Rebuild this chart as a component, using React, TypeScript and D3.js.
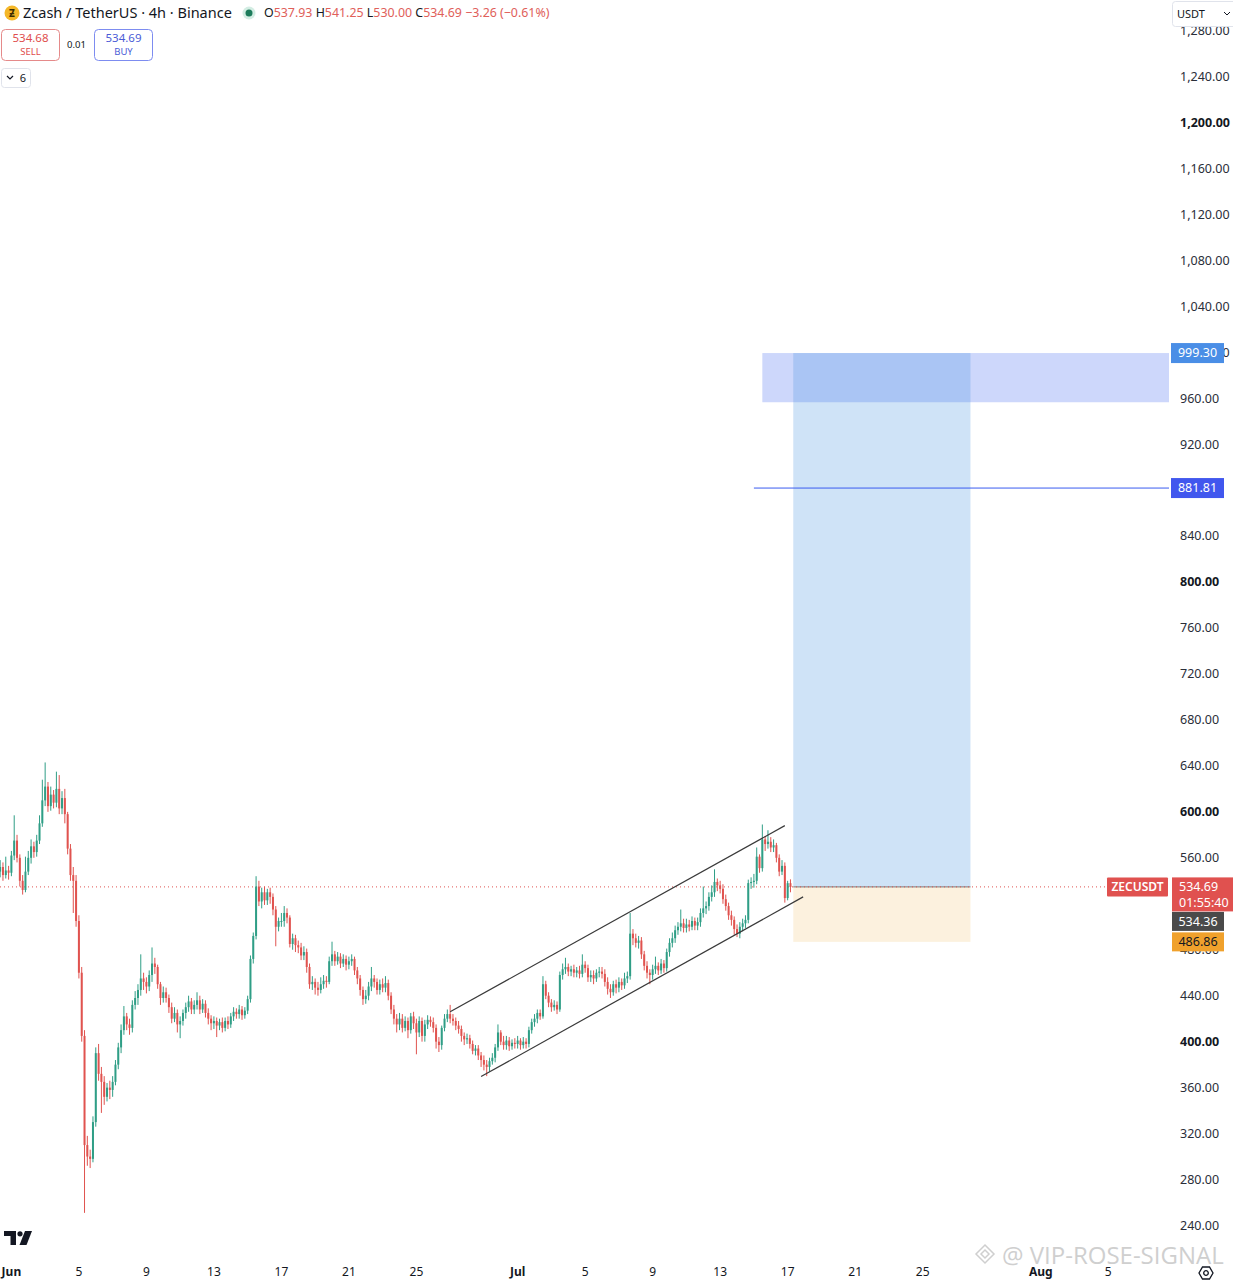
import { useEffect } from "react"
import * as d3 from "d3"

const W = 1233
const H = 1280

// 4h candles, first candle opens May 31 08:00 UTC, open = previous close
const firstCandle = Date.UTC(2025, 4, 31, 8)
const firstOpen = 548

const closes = [
  552, 545, 549, 547, // May 31
  562, 575, 560, 540, 532, 548, // Jun 1
  560, 570, 565, 575, 590, 610, // Jun 2
  622, 605, 615, 608, 620, 603, // Jun 3
  612, 598, 568, 545, 540, 505, // Jun 4
  460, 405, 310, 300, 298, 330, // Jun 5
  390, 372, 365, 352, 360, 358, // Jun 6
  365, 380, 395, 410, 422, 415, // Jun 7
  412, 432, 438, 445, 455, 452, // Jun 8
  448, 458, 468, 465, 450, 438, // Jun 9
  443, 438, 430, 420, 425, 415, // Jun 10
  418, 425, 430, 435, 428, 432, // Jun 11
  436, 428, 433, 425, 420, 416, // Jun 12
  418, 414, 417, 412, 418, 415, // Jun 13
  422, 426, 424, 428, 423, 427, // Jun 14
  437, 472, 492, 535, 522, 530, // Jun 15
  523, 530, 526, 515, 500, 505, // Jun 16
  505, 512, 508, 485, 490, 484, // Jun 17
  482, 475, 478, 465, 450, 452, // Jun 18
  447, 445, 450, 453, 452, 470, // Jun 19
  476, 470, 474, 468, 472, 467, // Jun 20
  470, 472, 462, 455, 445, 437, // Jun 21
  440, 448, 455, 452, 445, 450, // Jun 22
  447, 451, 440, 428, 420, 415, // Jun 23
  420, 412, 418, 410, 422, 416, // Jun 24
  408, 418, 405, 415, 419, 417, // Jun 25
  412, 400, 397, 412, 420, 424, // Jun 26
  420, 418, 414, 411, 405, 402, // Jun 27
  403, 398, 392, 394, 388, 384, // Jun 28
  380, 378, 383, 386, 395, 408, // Jun 29
  400, 397, 401, 396, 399, 398, // Jun 30
  401, 397, 400, 398, 410, 417, // Jul 1
  420, 425, 422, 450, 440, 434, // Jul 2
  430, 432, 428, 458, 463, 465, // Jul 3
  461, 463, 460, 462, 459, 467, // Jul 4
  464, 456, 458, 455, 460, 461, // Jul 5
  459, 452, 446, 443, 450, 447, // Jul 6
  452, 449, 455, 457, 494, 490, // Jul 7
  486, 488, 476, 466, 460, 458, // Jul 8
  463, 466, 462, 468, 464, 478, // Jul 9
  486, 490, 497, 500, 503, 499, // Jul 10
  502, 500, 505, 501, 504, 512, // Jul 11
  516, 518, 526, 530, 539, 536, // Jul 12
  533, 524, 518, 510, 506, 498, // Jul 13
  494, 500, 503, 506, 538, 539, // Jul 14
  540, 561, 551, 576, 572, 574, // Jul 15
  569, 571, 560, 548, 553, 525, // Jul 16
  537.93, 534.69, // Jul 17
]

const highs = [
  558, 556, 561, 553,
  566, 597, 580, 563, 545, 561,
  566, 576, 574, 580, 597, 628,
  643, 626, 622, 619, 635, 632,
  618, 620, 600, 572, 552, 545,
  510, 465, 410, 318, 306, 335,
  395, 398, 378, 370, 364, 366,
  370, 384, 399, 415, 431, 425,
  420, 436, 444, 450, 476, 460,
  456, 462, 482, 473, 467, 452,
  448, 447, 441, 434, 430, 428,
  422, 428, 434, 440, 438, 436,
  443, 440, 437, 436, 429, 423,
  422, 421, 420, 421, 421, 422,
  425, 430, 429, 432, 431, 430,
  440, 475, 495, 544, 540, 534,
  535, 533, 534, 529, 518, 508,
  512, 518, 516, 510, 494, 493,
  488, 486, 483, 481, 468, 457,
  455, 452, 456, 458, 457, 474,
  487, 479, 478, 477, 476, 475,
  474, 476, 474, 465, 458, 448,
  445, 452, 465, 458, 455, 454,
  455, 457, 454, 443, 432, 424,
  425, 424, 422, 421, 425, 426,
  420, 422, 421, 419, 423, 422,
  421, 415, 404, 414, 424, 428,
  432, 424, 421, 418, 414, 408,
  407, 406, 401, 397, 397, 391,
  388, 384, 386, 390, 398, 415,
  410, 405, 405, 404, 402, 403,
  405, 403, 404, 403, 413, 420,
  424, 428, 428, 457, 453, 443,
  437, 436, 435, 461, 468, 473,
  468, 466, 467, 465, 466, 476,
  470, 467, 462, 462, 463, 465,
  465, 463, 456, 450, 453, 454,
  456, 455, 460, 461, 512, 498,
  494, 492, 491, 479, 470, 463,
  467, 474, 469, 472, 471, 481,
  490, 495, 501, 504, 515, 507,
  507, 506, 509, 508, 508, 516,
  535, 522, 530, 536, 550, 542,
  540, 537, 528, 521, 514, 509,
  502, 504, 507, 510, 541, 543,
  546, 569, 563, 589, 579, 584,
  578, 576, 573, 563, 558, 556,
  540, 541.25,
]

const lows = [
  543, 540, 542, 541,
  544, 558, 556, 535, 528, 530,
  545, 555, 560, 561, 572, 587,
  605, 600, 601, 603, 604, 598,
  598, 590, 563, 540, 512, 500,
  455, 400, 251, 292, 290, 295,
  326, 366, 338, 345, 348, 350,
  352, 362, 376, 390, 406, 410,
  406, 408, 428, 432, 440, 445,
  442, 444, 452, 459, 446, 432,
  434, 434, 425, 416, 417, 408,
  403, 414, 420, 426, 424, 424,
  428, 424, 425, 421, 415, 410,
  411, 404, 410, 408, 409, 411,
  412, 418, 420, 420, 419, 420,
  424, 434, 468, 489, 518, 516,
  519, 519, 520, 510, 483, 496,
  500, 500, 503, 482, 480, 478,
  477, 471, 471, 460, 446, 445,
  441, 440, 442, 446, 447, 450,
  466, 466, 467, 464, 465, 462,
  463, 466, 458, 450, 440, 432,
  433, 436, 444, 447, 441, 441,
  443, 443, 436, 424, 415, 408,
  410, 408, 409, 403, 407, 411,
  389, 404, 400, 400, 411, 413,
  408, 394, 391, 393, 409, 417,
  416, 414, 410, 407, 400, 397,
  398, 394, 389, 388, 384, 378,
  375, 370, 374, 380, 382, 392,
  397, 393, 393, 392, 393, 394,
  394, 393, 394, 394, 395, 407,
  413, 416, 419, 420, 437, 430,
  426, 427, 424, 426, 454, 459,
  457, 457, 456, 456, 455, 456,
  460, 452, 452, 450, 452, 456,
  455, 448, 441, 438, 440, 442,
  443, 445, 446, 451, 454, 484,
  482, 481, 472, 462, 455, 450,
  454, 459, 458, 459, 460, 461,
  474, 482, 486, 493, 496, 495,
  495, 496, 497, 497, 497, 500,
  508, 511, 514, 522, 526, 531,
  529, 520, 514, 506, 501, 493,
  491, 490, 496, 499, 503, 533,
  534, 537, 547, 548, 566, 568,
  565, 565, 556, 544, 545, 521,
  523, 530,
]

const priceTicks = [240, 280, 320, 360, 400, 440, 480, 520, 560, 600, 640, 680, 720, 760, 800, 840, 880, 920, 960, 1000, 1040, 1080, 1120, 1160, 1200, 1240, 1280]
const boldTicks = [400, 600, 800, 1200]

const dateTickDays = ["2025-06-01", "2025-06-05", "2025-06-09", "2025-06-13", "2025-06-17", "2025-06-21", "2025-06-25", "2025-07-01", "2025-07-05", "2025-07-09", "2025-07-13", "2025-07-17", "2025-07-21", "2025-07-25", "2025-08-01", "2025-08-05"]
const dateTickLabels = ["Jun", "5", "9", "13", "17", "21", "25", "Jul", "5", "9", "13", "17", "21", "25", "Aug", "5"]

// drawings
const channelUpper = [["2025-06-27T00:00Z", 426], ["2025-07-16T20:00Z", 588]] as const
const channelLower = [["2025-06-28T20:00Z", 369.6], ["2025-07-17T22:00Z", 526]] as const
const entryPrice = 534.69
const targetPrice = 999.3
const stopPrice = 486.86
const positionStart = "2025-07-17T08:00Z"
const positionEnd = "2025-07-27T20:00Z"
const zoneTop = 999.3
const zoneBottom = 956.5
const zoneStart = "2025-07-15T12:00Z"
const levelPrice = 881.81
const levelStart = "2025-07-15T00:00Z"

const UP = "#2f9e86"
const DOWN = "#e0534f"
const FONT = "'Noto Sans', 'DejaVu Sans', sans-serif"

export default function App() {
  useEffect(() => {
    document.body.style.margin = "0"
  }, [])

  const plotRight = 1169
  const x = d3
    .scaleUtc()
    .domain([new Date(Date.UTC(2025, 5, 1)), new Date(Date.UTC(2025, 6, 1))])
    .range([11.4, 11.4 + 30 * 16.875])
  const y = d3.scaleLinear().domain([240, 1240]).range([1225.5, 76.5])

  const candles = closes.map((c, i) => ({
    t: new Date(firstCandle + i * 4 * 3600 * 1000),
    o: i === 0 ? firstOpen : closes[i - 1],
    h: highs[i],
    l: lows[i],
    c,
  }))

  const fmt = d3.format(",.2f")
  const line = d3
    .line<readonly [string, number]>()
    .x((d) => x(new Date(d[0])))
    .y((d) => y(d[1]))

  const posX0 = x(new Date(positionStart))
  const posX1 = x(new Date(positionEnd))
  const yEntry = y(entryPrice)

  return (
    <svg width={W} height={H} style={{ display: "block", fontFamily: FONT }}>
      <rect width={W} height={H} fill="#ffffff" />

      {/* target zone */}
      <rect
        x={x(new Date(zoneStart))}
        y={y(zoneTop)}
        width={plotRight - x(new Date(zoneStart))}
        height={y(zoneBottom) - y(zoneTop)}
        fill="#cdd7fb"
      />
      {/* long position */}
      <rect x={posX0} y={yEntry} width={posX1 - posX0} height={y(stopPrice) - yEntry} fill="#fcf1de" />
      <rect
        x={posX0}
        y={y(targetPrice)}
        width={posX1 - posX0}
        height={yEntry - y(targetPrice)}
        fill="#4693e0"
        fillOpacity={0.26}
      />
      <line x1={posX0} x2={posX1} y1={yEntry} y2={yEntry} stroke="#7a7a7a" strokeWidth={1} />

      {/* horizontal level */}
      <line
        x1={x(new Date(levelStart))}
        x2={plotRight}
        y1={y(levelPrice)}
        y2={y(levelPrice)}
        stroke="#3a5cf0"
        strokeWidth={1}
      />

      {/* last price line */}
      <line x1={0} x2={1107} y1={yEntry} y2={yEntry} stroke="#e0534f" strokeWidth={1} strokeDasharray="1 3" />

      {/* candles */}
      <g>
        {candles.map((d, i) => {
          const cx = x(d.t)
          const col = d.c >= d.o ? UP : DOWN
          const top = y(Math.max(d.o, d.c))
          const bot = y(Math.min(d.o, d.c))
          return (
            <g key={i}>
              <line x1={cx} x2={cx} y1={y(d.h)} y2={y(d.l)} stroke={col} strokeWidth={1} />
              <rect x={cx - 1} y={top} width={2} height={Math.max(1, bot - top)} fill={col} />
            </g>
          )
        })}
      </g>

      {/* channel */}
      <path d={line(channelUpper as any) || ""} stroke="#3a3a3a" strokeWidth={1.2} fill="none" />
      <path d={line(channelLower as any) || ""} stroke="#3a3a3a" strokeWidth={1.2} fill="none" />

      {/* price axis */}
      <g fontSize={12.5} fill="#131722">
        {priceTicks.map((v) => (
          <text
            key={v}
            x={1180}
            y={y(v)}
            dy="0.35em"
            fontWeight={boldTicks.includes(v) ? 700 : 400}
            fill={boldTicks.includes(v) ? "#131722" : "#2a2e39"}
          >
            {fmt(v)}
          </text>
        ))}
      </g>

      {/* price labels */}
      <g fontSize={12.5}>
        <rect x={1171} y={y(targetPrice) - 10} width={53} height={20} fill="#4a8ee6" />
        <text x={1197.5} y={y(targetPrice)} dy="0.35em" textAnchor="middle" fill="#fff">
          {fmt(targetPrice)}
        </text>
        <rect x={1171} y={y(levelPrice) - 10} width={53} height={20} fill="#4157ee" />
        <text x={1197.5} y={y(levelPrice)} dy="0.35em" textAnchor="middle" fill="#fff">
          {fmt(levelPrice)}
        </text>

        <rect x={1107} y={yEntry - 9.5} width={61} height={19} rx={1} fill="#e0514f" />
        <text x={1137.5} y={yEntry} dy="0.35em" textAnchor="middle" fill="#fff" fontWeight={600} fontSize={12}>
          ZECUSDT
        </text>
        <rect x={1172} y={yEntry - 9.5} width={61} height={34} fill="#e0514f" />
        <text x={1179} y={yEntry} dy="0.35em" fill="#fff">
          {fmt(entryPrice)}
        </text>
        <text x={1179} y={yEntry + 16} dy="0.35em" fill="#fff">
          01:55:40
        </text>
        <rect x={1172} y={yEntry + 25} width={52} height={19} fill="#4a4a4a" />
        <text x={1198} y={yEntry + 34.5} dy="0.35em" textAnchor="middle" fill="#fff">
          534.36
        </text>
        <rect x={1172} y={y(stopPrice) - 9.5} width={52} height={19} fill="#f0a12c" />
        <text x={1198} y={y(stopPrice)} dy="0.35em" textAnchor="middle" fill="#131722">
          {fmt(stopPrice)}
        </text>
      </g>

      {/* currency selector */}
      <rect x={1172.5} y={1.5} width={64} height={25} rx={3} fill="#fff" stroke="#e0e3eb" />
      <text x={1177} y={14} dy="0.35em" fontSize={11} fill="#131722">
        USDT
      </text>
      <path d="M1224,12 l3,3 l3,-3" stroke="#131722" fill="none" strokeWidth={1} />

      {/* time axis */}
      <g fontSize={12} fill="#131722">
        {dateTickDays.map((d, i) => {
          const lab = dateTickLabels[i]
          const isMonth = isNaN(Number(lab))
          return (
            <text key={d} x={x(new Date(d + "T00:00Z"))} y={1272} dy="0.35em" textAnchor="middle" fontWeight={isMonth ? 700 : 400}>
              {lab}
            </text>
          )
        })}
      </g>
      <g transform="translate(1206,1273)" fill="none" stroke="#131722" strokeWidth={1.3}>
        <path d="M-3.5,-6 L3.5,-6 L7,0 L3.5,6 L-3.5,6 L-7,0 Z" />
        <circle r={2.3} />
      </g>

      {/* tradingview logo */}
      <g fill="#131722">
        <path d="M4,1231 H16 V1245 H10.5 V1236 H4 Z" />
        <circle cx={20} cy={1233.8} r={2.6} />
        <path d="M25,1231 H32 L26.5,1245 H19.5 Z" />
      </g>

      {/* watermark */}
      <g fill="none" stroke="#cfcfcf" strokeWidth={1.5}>
        <path d="M985,1245 l9,9 l-9,9 l-9,-9 Z" />
        <path d="M985,1250 l4,4 l-4,4 l-4,-4 Z" />
      </g>
      <text x={1002} y={1264} fontSize={24} fill="#cfcfcf" fontFamily="'Open Sans', sans-serif">
        @ VIP-ROSE-SIGNAL
      </text>

      {/* header */}
      <circle cx={12} cy={13} r={7.5} fill="#f4b728" />
      <text x={12} y={13} dy="0.36em" textAnchor="middle" fontSize={10} fontWeight={700} fill="#3b2b00">
        Ƶ
      </text>
      <text x={23} y={13} dy="0.35em" fontSize={14.5} fill="#131722">
        Zcash / TetherUS · 4h · Binance
      </text>
      <circle cx={249} cy={13} r={6.5} fill="#d3ede3" />
      <circle cx={249} cy={13} r={3.5} fill="#1d7c5b" />
      <text x={264} y={13} dy="0.35em" fontSize={12.4} fill="#131722">
        O<tspan fill="#e0605a">537.93</tspan> H<tspan fill="#e0605a">541.25</tspan> L
        <tspan fill="#e0605a">530.00</tspan> C<tspan fill="#e0605a">534.69</tspan>
        <tspan fill="#e0605a"> −3.26 (−0.61%)</tspan>
      </text>

      <rect x={1.5} y={29.5} width={58} height={31} rx={4} fill="#fff" stroke="#e58a8a" />
      <text x={30.5} y={38} dy="0.35em" textAnchor="middle" fontSize={11.5} fill="#e04e4e">
        534.68
      </text>
      <text x={30.5} y={51.5} dy="0.35em" textAnchor="middle" fontSize={9.5} fill="#e04e4e">
        SELL
      </text>
      <text x={76.5} y={44.5} dy="0.35em" textAnchor="middle" fontSize={9.5} fill="#131722">
        0.01
      </text>
      <rect x={94.5} y={29.5} width={58} height={31} rx={4} fill="#fff" stroke="#7d8cf0" />
      <text x={123.5} y={38} dy="0.35em" textAnchor="middle" fontSize={11.5} fill="#4a5bd6">
        534.69
      </text>
      <text x={123.5} y={51.5} dy="0.35em" textAnchor="middle" fontSize={9.5} fill="#4a5bd6">
        BUY
      </text>

      <rect x={1.5} y={68.5} width={29} height={19} rx={3} fill="#fff" stroke="#e0e3eb" />
      <path d="M7,76 l3,3 l3,-3" stroke="#131722" fill="none" strokeWidth={1.2} />
      <text x={23} y={78} dy="0.35em" textAnchor="middle" fontSize={11} fill="#131722">
        6
      </text>
    </svg>
  )
}
